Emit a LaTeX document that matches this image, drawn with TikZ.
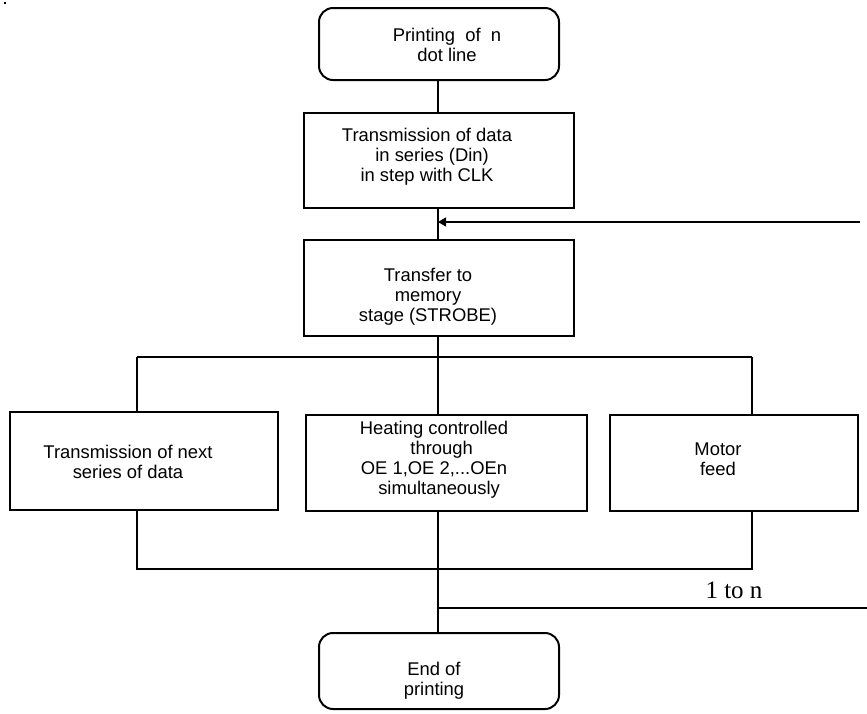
\documentclass[tikz,border=0pt]{standalone}
\usepackage{fontspec}
\setmainfont{Liberation Sans}
\newfontfamily\serifnum{Liberation Serif}
\usetikzlibrary{arrows.meta}
\begin{document}
\begin{tikzpicture}[x=1pt,y=-1pt,
  boxstyle/.style={draw,line width=2pt,inner sep=0pt,anchor=north west},
  termstyle/.style={boxstyle,rounded corners=14pt},
  txt/.style={inner sep=0pt,align=center,font=\fontsize{18.4}{20}\selectfont},
  wire/.style={line width=2pt},
  thinwire/.style={line width=1.3pt}]
\useasboundingbox (0,0) rectangle (867,713);
\fill (4,2) rectangle (6,4);
\coordinate (mx) at (438,0);
% boxes
\node[termstyle,minimum width=240pt,minimum height=72pt] (top) at (318,7) {};
\node[txt] (toptxt) at (447,45) {Printing\ \ of\ \ n\\dot line};
\node[boxstyle,minimum width=270pt,minimum height=95pt] (b2) at (303,112) {};
\node[txt] (b2txt) at (427,157) {Transmission of data\\\ \ in series (Din)\\in step with CLK};
\node[boxstyle,minimum width=270pt,minimum height=96pt] (b3) at (303,239) {};
\node[txt] (b3txt) at (428,297) {Transfer to\\memory\\stage (STROBE)};
\node[boxstyle,minimum width=268pt,minimum height=98pt] (bl) at (9,411) {};
\node[txt] (bltxt) at (128,462) {Transmission of next\\series of data};
\node[boxstyle,minimum width=281pt,minimum height=96pt] (bm) at (305,414) {};
\node[txt] (bmtxt) at (434,460) {Heating controlled\\\ \ \ through\\OE 1,OE 2,...OEn\\\ \ simultaneously};
\node[boxstyle,minimum width=248pt,minimum height=96pt] (br) at (609,414) {};
\node[txt] (brtxt) at (718,459) {Motor\\feed};
\node[termstyle,minimum width=240pt,minimum height=76pt] (end) at (318,632) {};
\node[txt] (endtxt) at (434,681) {End of\\printing};
% coordinates
\coordinate (bus) at (438,357);
\coordinate (busl) at (137,357);
\coordinate (busr) at (752,357);
\coordinate (lowl) at (137,569);
\coordinate (lowr) at (752,569);
\coordinate (fb) at (860,222);
\coordinate (loopa) at (438,608);
\coordinate (loopb) at (867,608);
% connectors
\draw[wire] (mx |- top.south) -- (mx |- b2.north);
\draw[wire] (mx |- b2.south) -- (mx |- b3.north);
\draw[thinwire,-{Triangle[length=8pt,width=9pt]}] (fb) -- (fb -| mx);
\draw[wire] (mx |- b3.south) -- (bus);
\draw[wire] (busl) -- (busr);
\draw[wire] (busl) -- (busl |- bl.north);
\draw[wire] (bus) -- (bus |- bm.north);
\draw[wire] (busr) -- (busr |- br.north);
\draw[wire] (lowl |- bl.south) -- (lowl) -- (lowr) -- (lowr |- br.south);
\draw[wire] (mx |- bm.south) -- (mx |- end.north);
\draw[wire] (loopa) -- (loopb);
\node[inner sep=0pt,font=\serifnum\fontsize{25}{28}\selectfont,anchor=base] (loop) at (734,598) {1 to n};
\end{tikzpicture}
\end{document}
